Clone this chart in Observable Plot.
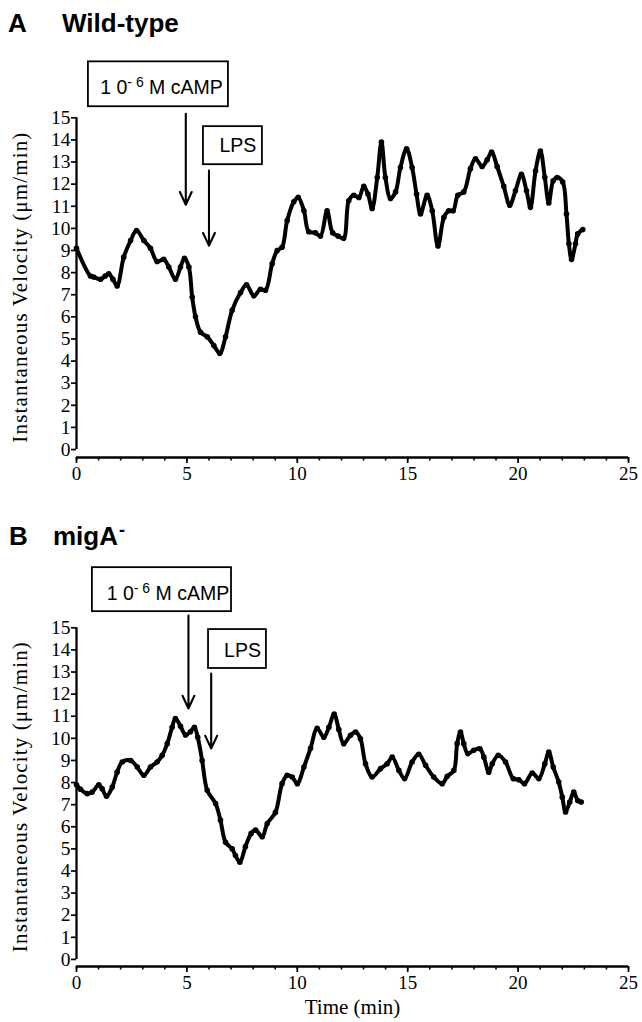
<!DOCTYPE html>
<html><head><meta charset="utf-8">
<script src="https://cdn.jsdelivr.net/npm/d3@7"></script>
<script src="https://cdn.jsdelivr.net/npm/@observablehq/plot@0.6"></script>
<style>
html,body{margin:0;padding:0;background:#fff;}
#fig{position:relative;width:642px;height:1022px;overflow:hidden;background:#fff;}
.panel{position:absolute;left:0;}
.ttl{position:absolute;z-index:2;font-family:"Liberation Sans",Arial,sans-serif;font-weight:bold;font-size:26px;line-height:26px;color:#000;white-space:nowrap;}
</style></head><body>
<div id="fig">
  <div id="pA" class="panel" style="top:0px"></div>
  <div id="pB" class="panel" style="top:500px"></div>
  <div class="ttl" style="left:8px;top:10px">A</div>
  <div class="ttl" style="left:62px;top:10px">Wild-type</div>
  <div class="ttl" style="left:9px;top:523px">B</div>
  <div class="ttl" style="left:53px;top:523px">migA<span style="font-size:18px;position:relative;top:-9px;margin-left:1px">-</span></div>
</div>
<script>
// ---- Data: panel A (Wild-type) ----
const timeA = [0.0,0.63,0.78,1.09,1.3,1.46,1.65,1.84,2.14,2.45,2.72,3.05,3.35,3.65,3.95,4.18,4.48,4.71,4.89,5.09,5.24,5.39,5.62,5.92,6.22,6.49,6.75,7.05,7.43,7.7,8.03,8.33,8.56,8.86,9.09,9.31,9.54,9.84,10.04,10.3,10.52,10.82,11.05,11.35,11.6,11.85,12.1,12.33,12.56,12.79,13.01,13.2,13.39,13.62,13.81,13.99,14.22,14.45,14.67,14.95,15.2,15.4,15.58,15.88,16.11,16.37,16.64,16.86,17.06,17.27,17.54,17.84,18.07,18.37,18.6,18.8,19.05,19.35,19.62,19.88,20.15,20.38,20.56,20.79,21.01,21.21,21.39,21.59,21.77,22.02,22.19,22.3,22.42,22.6,22.7,22.93];
const velA  = [9.1,7.85,7.8,7.7,7.85,7.95,7.7,7.4,8.7,9.45,9.9,9.45,9.1,8.5,8.6,8.25,7.7,8.25,8.65,8.25,6.9,6.0,5.3,5.1,4.7,4.35,5.1,6.3,7.1,7.45,6.95,7.25,7.2,8.4,9.0,9.15,10.35,11.2,11.4,10.8,9.85,9.8,9.65,10.8,9.8,9.65,9.55,11.25,11.5,11.4,11.9,11.55,10.9,12.3,13.9,12.3,11.35,11.65,12.75,13.6,12.75,11.55,10.65,11.5,10.8,9.2,10.5,10.8,10.8,11.5,11.65,12.7,13.15,12.8,13.1,13.45,12.8,11.9,11.05,11.7,12.45,11.7,10.95,12.6,13.5,12.3,11.15,12.15,12.3,12.1,10.65,9.3,8.6,9.3,9.75,9.95];

// ---- Data: panel B (migA-) ----
const timeB = [0.0,0.18,0.48,0.71,1.01,1.16,1.36,1.62,1.84,2.07,2.45,2.75,3.05,3.35,3.65,3.88,4.11,4.33,4.48,4.71,4.94,5.16,5.34,5.49,5.69,5.92,6.3,6.52,6.75,7.05,7.2,7.4,7.65,7.91,8.11,8.41,8.64,9.01,9.31,9.54,9.77,10.0,10.3,10.6,10.9,11.2,11.43,11.67,11.88,12.1,12.41,12.64,12.86,13.09,13.39,13.77,14.07,14.3,14.6,14.86,15.2,15.5,15.81,16.18,16.56,16.79,17.09,17.24,17.39,17.54,17.72,17.99,18.27,18.45,18.67,18.83,19.1,19.43,19.78,20.03,20.29,20.64,20.94,21.21,21.39,21.59,21.84,22.0,22.15,22.34,22.52,22.7,22.86];
const velB  = [7.9,7.7,7.5,7.57,7.9,7.72,7.38,7.8,8.47,8.93,9.0,8.7,8.33,8.7,8.93,9.23,9.76,10.5,10.9,10.55,10.15,10.3,10.5,10.05,9.0,7.65,7.05,6.3,5.3,5.0,4.7,4.4,5.1,5.7,5.85,5.55,6.15,6.65,7.95,8.33,8.25,7.95,8.7,9.55,10.45,10.05,10.5,11.1,10.4,9.76,10.14,10.29,9.98,8.85,8.25,8.63,8.85,9.15,8.55,8.18,8.93,9.28,8.78,8.25,7.95,8.28,8.55,9.76,10.29,9.76,9.31,9.46,9.53,9.15,8.47,8.85,9.23,8.93,8.18,8.13,7.95,8.43,8.18,8.85,9.38,8.7,8.02,7.34,6.67,7.12,7.57,7.19,7.12];

// ---- Axis ticks and labels ----
const xMajorTicks = [0, 5, 10, 15, 20, 25];
const xMinorTicks = [0,1,2,3,4,5,6,7,8,9,10,11,12,13,14,15,16,17,18,19,20,21,22,23,24,25];
const yTicks = [0,1,2,3,4,5,6,7,8,9,10,11,12,13,14,15];
const yLabel = "Instantaneous Velocity (μm/min)";
const xLabel = "Time (min)";

// ---- Stimuli (annotation labels and times of addition, min) ----
const stimLabels = ["10⁻⁶ M cAMP", "LPS"];
const stimTimesA = [4.95, 6.0];
const stimTimesB = [5.07, 6.1];

const serif = '"Liberation Serif","Times New Roman",Times,serif';
const sans = '"Liberation Sans",Arial,Helvetica,sans-serif';

function panel(o) {
  const data = o.t.map((t, i) => ({t, v: o.v[i]}));
  const boxes = [
    {x1: o.campBox[0], x2: o.campBox[1], y1: o.campBox[2], y2: o.campBox[3]},
    {x1: o.lpsBox[0], x2: o.lpsBox[1], y1: o.lpsBox[2], y2: o.lpsBox[3]}
  ];
  const labels = [
    {x: o.campText[0], y: o.campText[1], label: stimLabels[0]},
    {x: o.lpsText[0], y: o.lpsText[1], label: stimLabels[1]}
  ];
  const arrows = [
    {x: o.times[0], y1: o.campArrow[0], y2: o.campArrow[1]},
    {x: o.times[1], y1: o.lpsArrow[0], y2: o.lpsArrow[1]}
  ];
  const marks = [
    Plot.axisX({ticks: xMinorTicks, tickSize: 3.5, tickFormat: () => "", strokeWidth: 1.6, label: null}),
    Plot.axisX({ticks: xMajorTicks, tickSize: 6, tickPadding: 3, strokeWidth: 1.7, label: null, fontSize: 19}),
    Plot.axisY({ticks: yTicks, tickSize: 5, tickPadding: 1, strokeWidth: 1.7, label: null, fontSize: 19.5}),
    Plot.ruleY([o.yLow], {x1: 0, x2: 25, strokeWidth: 2.5}),
    Plot.ruleX([0], {y1: 0, y2: 15, strokeWidth: 2.3}),
    Plot.text([yLabel], {frameAnchor: "left", textAnchor: "middle", dx: -56, rotate: -90, fontSize: 21, fontFamily: serif}),
    Plot.line(data, {x: "t", y: "v", strokeWidth: 4, curve: "catmull-rom"}),
    Plot.dot(data, {x: "t", y: "v", r: 2.8, fill: "black", stroke: "none"}),
    Plot.rect(boxes, {x1: "x1", x2: "x2", y1: "y1", y2: "y2", fill: "white", stroke: "black", strokeWidth: 1.8}),
    Plot.text(labels, {x: "x", y: "y", text: "label", fontSize: 19.5, fontFamily: sans}),
    Plot.arrow(arrows, {x1: "x", x2: "x", y1: "y1", y2: "y2", strokeWidth: 2.1, headLength: 10, headAngle: 50})
  ];
  if (o.xTitle) marks.push(Plot.text([xLabel], {frameAnchor: "bottom", dy: 47, fontSize: 21, fontFamily: serif}));
  const svg = Plot.plot({
    width: 642, height: o.height,
    marginLeft: 76, marginRight: 14, marginTop: o.mt, marginBottom: o.mb,
    x: {domain: [0, 25], label: null},
    y: {domain: [o.yLow, 15], label: null},
    style: {fontFamily: serif, fontSize: "19px", color: "black", background: "transparent", overflow: "visible"},
    marks
  });
  const sel = d3.select(svg).selectAll("text");
  // stretch the rotated axis title to the reference's length
  sel.filter(function() { return this.textContent === yLabel; })
    .attr("textLength", 310).attr("lengthAdjust", "spacing");
  // typeset the superscript in the cAMP label
  sel.filter(function() { return this.textContent === stimLabels[0]; })
    .each(function() {
      const t = d3.select(this);
      t.text(null).style("white-space", "pre");
      t.append("tspan").text("1 0");
      t.append("tspan").attr("dy", "-7").attr("font-size", "14").text("- 6");
      t.append("tspan").attr("dy", "7").text(" M cAMP");
    });
  return svg;
}

document.getElementById("pA").appendChild(panel({
  t: timeA, v: velA, times: stimTimesA, height: 500, mt: 117.3, mb: 43, yLow: -0.36,
  campBox: [0.54, 6.88, 15.5, 17.53], campText: [3.85, 16.36], campArrow: [15.18, 11.07],
  lpsBox: [5.75, 8.42, 12.88, 14.6], lpsText: [7.31, 13.74], lpsArrow: [12.61, 9.22],
  xTitle: false
}));
document.getElementById("pB").appendChild(panel({
  t: timeB, v: velB, times: stimTimesB, height: 522, mt: 127.3, mb: 56, yLow: -0.32,
  campBox: [0.72, 7.02, 15.73, 17.72], campText: [4.14, 16.55], campArrow: [15.55, 11.35],
  lpsBox: [5.98, 8.6, 13.16, 14.92], lpsText: [7.52, 13.97], lpsArrow: [12.93, 9.54],
  xTitle: true
}));
</script>
</body></html>
